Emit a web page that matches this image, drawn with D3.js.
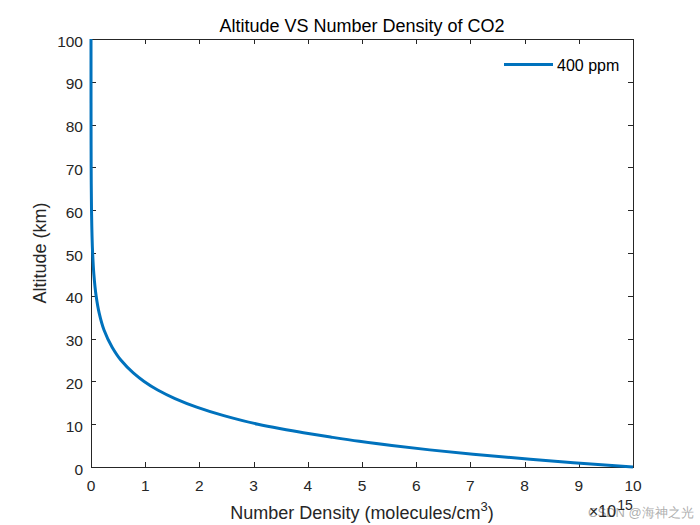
<!DOCTYPE html>
<html>
<head>
<meta charset="utf-8">
<script src="https://cdn.jsdelivr.net/npm/d3@7"></script>
<style>
body{margin:0;background:#fff;}
svg{display:block;}
text{font-family:"Liberation Sans",Arial,Helvetica,sans-serif;}
</style>
</head>
<body>
<svg id="chart" width="700" height="525"></svg>
<script>
// Data (density in units of 1e15 molecules/cm^3)
const altitudeKm = [0,1,2,3,4,5,6,7,8,9,10,12,14,16,18,20,22,25,28,32,36,40,45,50,60,70,80,90,100];
const density400 = [10.0,8.9,7.95,7.05,6.25,5.55,4.95,4.42,3.92,3.48,3.08,2.45,1.95,1.55,1.23,0.98,0.78,0.55,0.39,0.24,0.15,0.094,0.053,0.030,0.0095,0.003,0.001,0.0003,0.0001];
const xTicks = [0,1,2,3,4,5,6,7,8,9,10];
const yTicks = [0,10,20,30,40,50,60,70,80,90,100];
const seriesName = "400 ppm";

const svg = d3.select("#chart");
const L = 91, R = 633, T = 39, B = 467;
const x = d3.scaleLinear().domain([0,10]).range([L,R]);
const y = d3.scaleLinear().domain([0,100]).range([B,T]);
const axisCol = "#262626";
const tl = 5;

// box
svg.append("rect").attr("x",L+0.5).attr("y",T+0.5).attr("width",R-L).attr("height",B-T)
  .attr("fill","#fff").attr("stroke",axisCol).attr("stroke-width",1);

// ticks
const g = svg.append("g").attr("stroke",axisCol).attr("stroke-width",1);
xTicks.forEach(t=>{
  const px = Math.round(x(t))+0.5;
  g.append("line").attr("x1",px).attr("x2",px).attr("y1",B).attr("y2",B-tl);
  g.append("line").attr("x1",px).attr("x2",px).attr("y1",T).attr("y2",T+tl);
});
yTicks.forEach(t=>{
  const py = Math.round(y(t))+0.5;
  g.append("line").attr("x1",L).attr("x2",L+tl).attr("y1",py).attr("y2",py);
  g.append("line").attr("x1",R).attr("x2",R-tl).attr("y1",py).attr("y2",py);
});

// tick labels
svg.append("g").selectAll("text").data(xTicks).join("text")
  .attr("x",d=>x(d)).attr("y",B+24).attr("text-anchor","middle")
  .attr("font-size",15.5).attr("fill",axisCol).text(d=>d);
svg.append("g").selectAll("text").data(yTicks).join("text")
  .attr("x",L-8).attr("y",d=>y(d)+7.5).attr("text-anchor","end")
  .attr("font-size",15.5).attr("fill",axisCol).text(d=>d);

// curve
const line = d3.line().x((d,i)=>x(density400[i])).y(d=>y(d)).curve(d3.curveMonotoneY);
svg.append("path").datum(altitudeKm).attr("d",line)
  .attr("fill","none").attr("stroke","#0072BD").attr("stroke-width",3);

// title
svg.append("text").attr("x",(L+R)/2).attr("y",32).attr("text-anchor","middle")
  .attr("font-size",18).attr("fill","#000").text("Altitude VS Number Density of CO2");

// x label
const xl = svg.append("text").attr("x",(L+R)/2).attr("y",519).attr("text-anchor","middle")
  .attr("font-size",18).attr("fill",axisCol);
xl.append("tspan").text("Number Density (molecules/cm");
xl.append("tspan").attr("dy",-8).attr("font-size",13).text("3");
xl.append("tspan").attr("dy",8).text(")");

// y label
svg.append("text").attr("transform",`translate(46,${(T+B)/2}) rotate(-90)`)
  .attr("text-anchor","middle").attr("font-size",18).attr("fill",axisCol).text("Altitude (km)");

// watermark
svg.append("text").attr("x",588).attr("y",517).attr("font-size",13)
  .attr("fill","#a0a0a0").attr("fill-opacity",0.85)
  .attr("font-family","'Noto Sans CJK SC',sans-serif").text("CSDN @海神之光");

// exponent
const ex = svg.append("text").attr("x",589).attr("y",517).attr("font-size",16).attr("fill",axisCol);
ex.append("tspan").text("×10");
ex.append("tspan").attr("dx",1).attr("dy",-7).attr("font-size",14).text("15");

// legend
svg.append("line").attr("x1",504).attr("x2",553).attr("y1",64.5).attr("y2",64.5)
  .attr("stroke","#0072BD").attr("stroke-width",2.8);
svg.append("text").attr("x",557).attr("y",71).attr("font-size",16).attr("fill","#000").text(seriesName);
</script>
</body>
</html>
